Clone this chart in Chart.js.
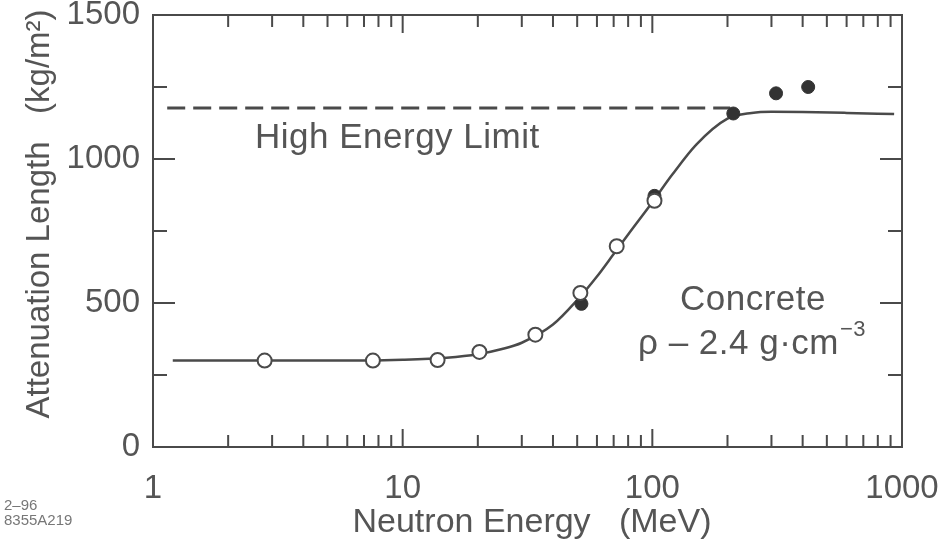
<!DOCTYPE html>
<html>
<head>
<meta charset="utf-8">
<script src="https://cdn.jsdelivr.net/npm/chart.js@4.4.1/dist/chart.umd.min.js"></script>
<style>
  html, body { margin: 0; padding: 0; background: #fff; }
  #wrap { width: 945px; height: 547px; }
</style>
</head>
<body>
<div id="wrap"><canvas id="c"></canvas></div>
<script>
// fitted curve (MeV, kg/m2)
const curveEnergy = [1.2, 3, 6, 10, 15, 20, 25, 30, 40, 50, 60, 70, 80, 100, 120, 150, 200, 250, 300, 400, 600, 930];
const curveLength = [300, 300, 300, 303, 310, 322, 340, 362, 425, 510, 592, 670, 738, 850, 945, 1050, 1140, 1160, 1164, 1163, 1160, 1156];

// measured points
const openEnergy = [2.8, 7.6, 13.8, 20.3, 34, 51.5, 72, 102];
const openLength = [300, 300, 302, 330, 390, 535, 697, 855];
const filledEnergy = [52, 102, 211, 313, 421];
const filledLength = [497, 872, 1158, 1228, 1250];

// high energy limit
const limitEnergy = [1.14, 205];
const limitLength = [1177, 1177];

const xMajorTicks = [1, 10, 100, 1000];
const yMajorTicks = [0, 500, 1000, 1500];
const yMinorTicks = [250, 750, 1250];

const ink = '#4a4a4a';
const textInk = '#555';
const font = '"Liberation Sans", Arial, sans-serif';

const pts = (xs, ys) => xs.map((x, i) => ({x: x, y: ys[i]}));

const frame = {
    id: 'frame',
    afterDatasetsDraw(chart) {
        const {ctx, chartArea: a, scales: {x, y}} = chart;
        ctx.save();
        ctx.strokeStyle = ink;
        ctx.lineWidth = 2;
        ctx.strokeRect(a.left, a.top, a.right - a.left, a.bottom - a.top);
        ctx.beginPath();
        yMajorTicks.forEach(v => {
            const py = y.getPixelForValue(v);
            ctx.moveTo(a.left, py); ctx.lineTo(a.left + 22, py);
            ctx.moveTo(a.right, py); ctx.lineTo(a.right - 22, py);
        });
        yMinorTicks.forEach(v => {
            const py = y.getPixelForValue(v);
            ctx.moveTo(a.left, py); ctx.lineTo(a.left + 14, py);
            ctx.moveTo(a.right, py); ctx.lineTo(a.right - 14, py);
        });
        xMajorTicks.forEach((d, k) => {
            const px = x.getPixelForValue(d);
            ctx.moveTo(px, a.bottom); ctx.lineTo(px, a.bottom - 18);
            ctx.moveTo(px, a.top); ctx.lineTo(px, a.top + 18);
            if (k < xMajorTicks.length - 1) {
                for (let m = 2; m <= 9; m++) {
                    const mx = x.getPixelForValue(d * m);
                    ctx.moveTo(mx, a.bottom); ctx.lineTo(mx, a.bottom - 12);
                    ctx.moveTo(mx, a.top); ctx.lineTo(mx, a.top + 12);
                }
            }
        });
        ctx.stroke();

        ctx.fillStyle = textInk;
        ctx.font = '35px ' + font;
        ctx.letterSpacing = '0.5px';
        ctx.textBaseline = 'middle';
        ctx.textAlign = 'left';
        ctx.fillText('High Energy Limit', 255, 138);
        ctx.fillText('Concrete', 680, 300);
        const rho = '\u03c1 \u2013 2.4 g\u00b7cm';
        ctx.fillText(rho, 638, 344);
        const w = ctx.measureText(rho).width;
        ctx.font = '22px ' + font;
        ctx.fillText('\u22123', 638 + w + 1, 330);

        ctx.letterSpacing = '0px';
        ctx.font = '34px ' + font;
        ctx.textAlign = 'center';
        ctx.fillText('Neutron Energy   (MeV)', 532, 523);

        ctx.save();
        ctx.font = '33px ' + font;
        ctx.translate(40, 214);
        ctx.rotate(-Math.PI / 2);
        ctx.fillText('Attenuation Length   (kg/m\u00b2)', 0, 0);
        ctx.restore();

        ctx.font = '15px ' + font;
        ctx.textAlign = 'left';
        ctx.fillStyle = '#777';
        ctx.fillText('2\u201396', 4, 506);
        ctx.fillText('8355A219', 4, 521);
        ctx.restore();
    }
};

new Chart(document.getElementById('c'), {
    type: 'scatter',
    data: {
        datasets: [
            {
                label: 'open',
                data: pts(openEnergy, openLength),
                pointRadius: 7,
                pointBorderWidth: 2,
                pointBackgroundColor: '#fff',
                pointBorderColor: ink,
                order: 0
            },
            {
                label: 'filled',
                data: pts(filledEnergy, filledLength),
                pointRadius: 6.5,
                pointBorderWidth: 1,
                pointBackgroundColor: '#333',
                pointBorderColor: '#333',
                order: 1
            },
            {
                label: 'curve',
                data: pts(curveEnergy, curveLength),
                showLine: true,
                borderColor: ink,
                borderWidth: 2.5,
                pointRadius: 0,
                cubicInterpolationMode: 'monotone',
                order: 2
            },
            {
                label: 'limit',
                data: pts(limitEnergy, limitLength),
                showLine: true,
                borderColor: ink,
                borderWidth: 3,
                borderDash: [18, 8],
                pointRadius: 0,
                order: 3
            }
        ]
    },
    options: {
        responsive: true,
        maintainAspectRatio: false,
        animation: false,
        layout: { padding: { top: 15, right: 43, left: 0, bottom: 0 } },
        scales: {
            x: {
                type: 'logarithmic',
                min: 1,
                max: 1000,
                afterBuildTicks: s => { s.ticks = xMajorTicks.map(v => ({value: v})); },
                afterFit: s => { s.height = 100; s.paddingLeft = 0; s.paddingRight = 0; },
                grid: { display: false },
                border: { display: false },
                ticks: {
                    color: textInk,
                    font: { family: font, size: 33 },
                    padding: 14,
                    autoSkip: false,
                    maxRotation: 0,
                    callback: v => String(v)
                }
            },
            y: {
                min: 0,
                max: 1500,
                afterBuildTicks: s => { s.ticks = yMajorTicks.map(v => ({value: v})); },
                afterFit: s => { s.width = 153; s.paddingTop = 0; s.paddingBottom = 0; },
                grid: { display: false },
                border: { display: false },
                ticks: {
                    color: textInk,
                    font: { family: font, size: 33 },
                    padding: 5,
                    callback: v => String(v)
                }
            }
        },
        plugins: {
            legend: { display: false },
            tooltip: { enabled: false }
        }
    },
    plugins: [frame]
});
</script>
</body>
</html>
